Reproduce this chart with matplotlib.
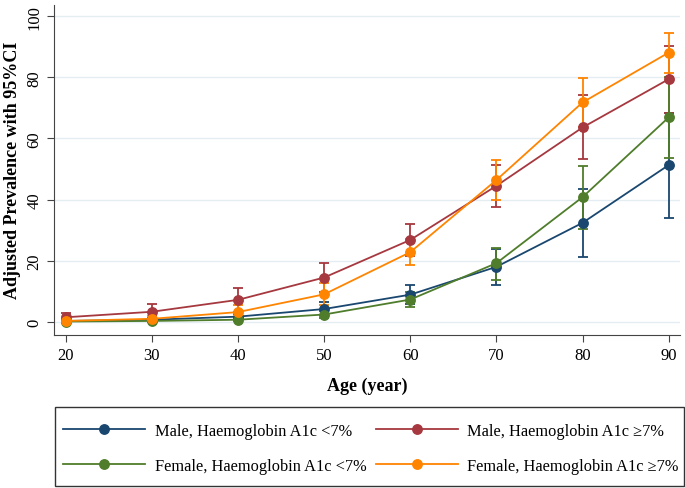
import numpy as np
import matplotlib
matplotlib.use("Agg")
import matplotlib.pyplot as plt
from matplotlib.patches import Rectangle

plt.rcParams['font.family'] = ['Liberation Serif', 'DejaVu Serif']

# Age groups
ages = [20, 30, 40, 50, 60, 70, 80, 90]

# Adjusted prevalence (%) with 95% CI
male_lt7 = [0.3, 0.7, 1.7, 4.2, 8.9, 18.0, 32.4, 51.3]
male_lt7_lo = [0.0, 0.2, 0.9, 2.2, 6.0, 12.2, 21.3, 34.0]
male_lt7_hi = [0.7, 1.3, 2.6, 6.4, 12.2, 23.9, 43.5, 68.5]

male_ge7 = [1.5, 3.3, 7.2, 14.5, 26.8, 44.5, 63.6, 79.4]
male_ge7_lo = [0.3, 1.0, 3.3, 9.7, 21.6, 37.5, 53.3, 68.5]
male_ge7_hi = [2.8, 5.9, 11.2, 19.3, 32.0, 51.4, 74.2, 90.2]

female_lt7 = [0.1, 0.3, 0.7, 2.4, 7.3, 19.2, 40.8, 66.9]
female_lt7_lo = [0.0, 0.1, 0.3, 1.2, 4.9, 13.8, 30.5, 53.5]
female_lt7_hi = [0.3, 0.6, 1.1, 3.6, 9.7, 24.2, 51.0, 80.0]

female_ge7 = [0.3, 1.0, 3.2, 9.0, 22.8, 46.4, 71.8, 88.1]
female_ge7_lo = [0.0, 0.3, 1.2, 5.5, 18.5, 39.9, 63.7, 81.4]
female_ge7_hi = [0.8, 1.8, 5.5, 12.7, 27.1, 52.8, 79.8, 94.5]

series = [
    ("Male, Haemoglobin A1c <7%", male_lt7, male_lt7_lo, male_lt7_hi, '#1a476f'),
    ("Male, Haemoglobin A1c \u22657%", male_ge7, male_ge7_lo, male_ge7_hi, '#a6383f'),
    ("Female, Haemoglobin A1c <7%", female_lt7, female_lt7_lo, female_lt7_hi, '#4f7d2b'),
    ("Female, Haemoglobin A1c \u22657%", female_ge7, female_ge7_lo, female_ge7_hi, '#ff8400'),
]

fig = plt.figure(figsize=(6.85, 4.89), dpi=100)
ax = fig.add_axes([0.0795, 0.3135, 0.913, 0.675])

handles = []
for label, y, lo, hi, c in series:
    y = np.array(y)
    err = [y - np.array(lo), np.array(hi) - y]
    eb = ax.errorbar(ages, y, yerr=err, color=c, ecolor=c, lw=1.3, elinewidth=1.3,
                     capsize=3.5, capthick=1.3, marker='o', markersize=6.8, label=label)
    handles.append(eb[0])

ax.set_xlim(18.7, 91.3)
ax.set_ylim(-4.2, 103.8)
ax.set_xticks(ages)
ax.set_yticks([0, 20, 40, 60, 80, 100])
ax.grid(axis='y', color='#e4eef2', lw=1)
ax.set_axisbelow(True)
for s in ['top', 'right']:
    ax.spines[s].set_visible(False)
for s in ['left', 'bottom']:
    ax.spines[s].set_color('#444444')
ax.tick_params(axis='both', labelsize=12, direction='out', length=5, color='#444444')
plt.setp(ax.get_yticklabels(), rotation=90, va='center')
ax.set_xlabel('Age (year)', fontsize=13, fontweight='bold', labelpad=10)
ax.set_ylabel('Adjusted Prevalence with 95%CI', fontsize=13, fontweight='bold', labelpad=4)

# legend: row-wise order (matplotlib fills columns first)
order = [0, 2, 1, 3]
leg = fig.legend(handles=[handles[i] for i in order], labels=[series[i][0] for i in order],
                 ncol=2, loc='center', bbox_to_anchor=(0.092, 0.031, 0.899, 0.1),
                 mode='expand', frameon=False, fontsize=11.8, handlelength=5.0,
                 handletextpad=0.6, borderpad=0, borderaxespad=0, columnspacing=0.7,
                 labelspacing=1.2)
fig.patches.append(Rectangle((0.0803, 0.0041), 0.9178, 0.1616, transform=fig.transFigure,
                             fill=False, edgecolor='#333333', lw=1))

fig.savefig('out.png', dpi=100)
